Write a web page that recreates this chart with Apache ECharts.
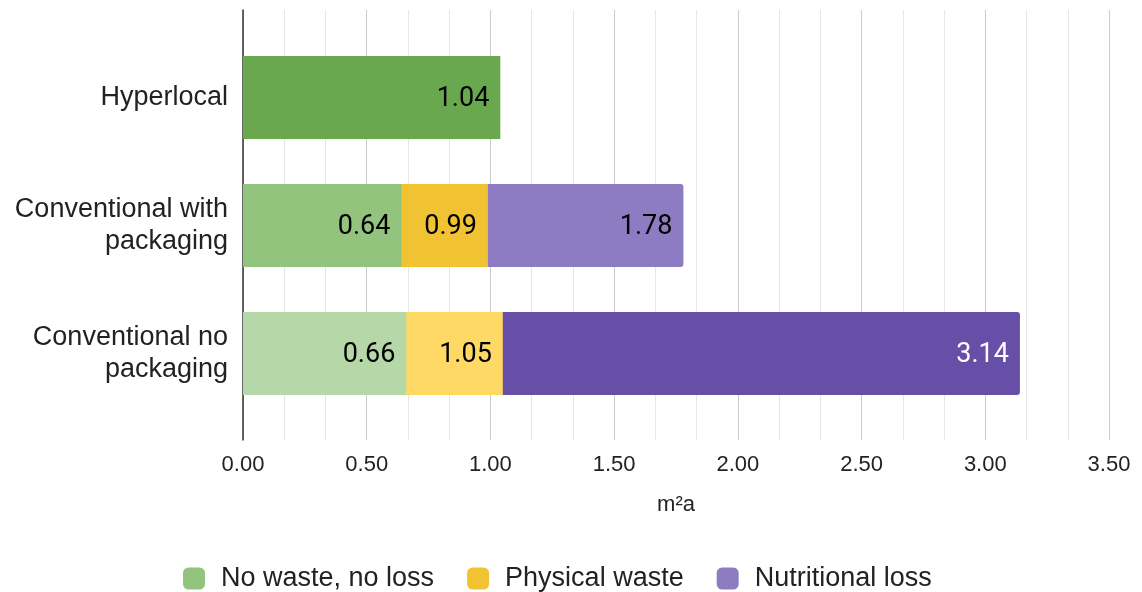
<!DOCTYPE html>
<html>
<head>
<meta charset="utf-8">
<script src="https://cdn.jsdelivr.net/npm/echarts@6/dist/echarts.min.js"></script>
<style>
html,body{margin:0;padding:0;background:#fff;}
#chart{width:1142px;height:592px;}
</style>
</head>
<body>
<div id="chart"></div>
<script>
// ---- data (top level) ----
var categories = ['Hyperlocal', 'Conventional with\npackaging', 'Conventional no\npackaging'];
var seriesNames = ['No waste, no loss', 'Physical waste', 'Nutritional loss'];
// cumulative values as labelled on the bars
var noWaste = [1.04, 0.64, 0.66];
var physicalWaste = [null, 0.99, 1.05];
var nutritionalLoss = [null, 1.78, 3.14];
var xTicks = { min: 0, max: 3.5, interval: 0.5 };

// ---- styles ----
var noWasteColors = ['#6aa84f', '#93c47d', '#b6d7a8'];
var physicalColors = ['#f1c232', '#f1c232', '#ffd966'];
var nutritionalColors = ['#8e7cc3', '#8e7cc3', '#674ea7'];
var nutritionalLabelColors = ['#000', '#000', '#fff'];

function build(values, colors, labelColors, radius) {
  return values.map(function (v, i) {
    if (v === null) return '-';
    var d = { value: v, itemStyle: { color: colors[i] } };
    if (radius) d.itemStyle.borderRadius = radius;
    if (labelColors) d.label = { color: labelColors[i] };
    return d;
  });
}

var labelCfg = {
  show: true,
  position: 'insideRight',
  distance: 11,
  offset: [0, 2],
  fontFamily: 'Roboto',
  fontWeight: 'normal',
  fontSize: 27,
  color: '#000',
  formatter: function (p) { return Number(p.value).toFixed(2); }
};

var chart = echarts.init(document.getElementById('chart'), null, { renderer: 'canvas' });
chart.setOption({
  animation: false,
  backgroundColor: '#fff',
  textStyle: { fontFamily: 'Liberation Sans' },
  grid: [
    { left: 243, width: 866, top: 10, height: 430, containLabel: false },
    { left: 243, width: 866, top: 33.5, height: 384, containLabel: false }
  ],
  xAxis: [
    {
      gridIndex: 0, type: 'value', min: xTicks.min, max: xTicks.max, interval: xTicks.interval,
      axisLine: { show: false }, axisTick: { show: false },
      axisLabel: { fontSize: 22, color: '#222', margin: 14, fontFamily: 'Liberation Sans',
        formatter: function (v) { return v.toFixed(2); } },
      splitLine: { show: true, lineStyle: { color: '#cccccc', width: 1 } },
      minorTick: { show: false, splitNumber: 3 },
      minorSplitLine: { show: true, lineStyle: { color: '#e6e6e6', width: 1 } },
      name: 'm²a', nameLocation: 'middle', nameGap: 54,
      nameTextStyle: { fontSize: 22, color: '#222', fontFamily: 'Liberation Sans' }
    },
    {
      gridIndex: 1, type: 'value', min: xTicks.min, max: xTicks.max, show: false
    }
  ],
  yAxis: [
    {
      gridIndex: 0, type: 'value', min: 0, max: 1,
      axisLine: { show: true, lineStyle: { color: '#333', width: 1.5 } },
      axisTick: { show: false }, axisLabel: { show: false }, splitLine: { show: false }
    },
    {
      gridIndex: 1, type: 'category', data: categories, inverse: true,
      axisLine: { show: false }, axisTick: { show: false }, splitLine: { show: false },
      axisLabel: { fontSize: 27, color: '#222', margin: 15, lineHeight: 32, align: 'right',
        padding: [4, 0, 0, 0], fontFamily: 'Liberation Sans' }
    }
  ],
  legend: {
    data: seriesNames,
    top: 560,
    left: 178,
    icon: 'roundRect',
    itemWidth: 22, itemHeight: 22, itemGap: 33,
    textStyle: { fontSize: 27, color: '#222', fontFamily: 'Liberation Sans', padding: [0, 0, 0, 11] }
  },
  series: [
    {
      name: seriesNames[2], type: 'bar', xAxisIndex: 1, yAxisIndex: 1,
      barWidth: 83, barGap: '-100%', color: '#8e7cc3',
      data: build(nutritionalLoss, nutritionalColors, nutritionalLabelColors, [0, 3, 3, 0]),
      label: labelCfg
    },
    {
      name: seriesNames[1], type: 'bar', xAxisIndex: 1, yAxisIndex: 1,
      barWidth: 83, barGap: '-100%', color: '#f1c232',
      data: build(physicalWaste, physicalColors, null, null),
      label: labelCfg
    },
    {
      name: seriesNames[0], type: 'bar', xAxisIndex: 1, yAxisIndex: 1,
      barWidth: 83, barGap: '-100%', color: '#93c47d',
      data: build(noWaste, noWasteColors, null, null),
      label: labelCfg
    }
  ]
});
</script>
</body>
</html>
